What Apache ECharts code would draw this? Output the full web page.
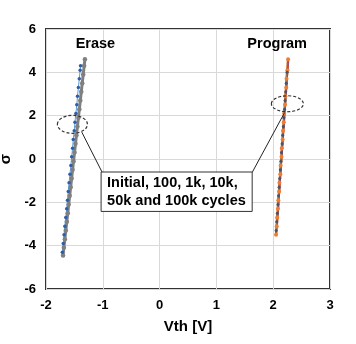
<!DOCTYPE html>
<html>
<head>
<meta charset="utf-8">
<script src="https://cdn.jsdelivr.net/npm/echarts@6/dist/echarts.min.js"></script>
<style>
html,body{margin:0;padding:0;background:#fff;}
#c{width:356px;height:344px;}
</style>
</head>
<body>
<div id="c"></div>
<script>
// ---- data ----
var xTicks = [-2, -1, 0, 1, 2, 3];
var yTicks = [-6, -4, -2, 0, 2, 4, 6];

var eraseGraySigma = [-4.45,-4.1,-3.7,-3.3,-2.9,-2.5,-2.1,-1.7,-1.3,-0.9,-0.5,-0.1,0.3,0.7,1.1,1.5,1.9,2.3,2.7,3.1,3.5,3.9,4.3,4.6];
var eraseGrayVth   = [-1.700,-1.686,-1.668,-1.652,-1.634,-1.617,-1.601,-1.583,-1.566,-1.549,-1.532,-1.515,-1.498,-1.481,-1.464,-1.447,-1.430,-1.413,-1.396,-1.379,-1.362,-1.345,-1.328,-1.315];

var eraseBlueSigma = [-4.3,-3.9,-3.5,-3.1,-2.7,-2.3,-1.9,-1.5,-1.1,-0.7,-0.3,0.1,0.5,0.9,1.3,1.7,2.1,2.5,2.9,3.3,3.7,4.1,4.3];
var eraseBlueVth   = [-1.712,-1.696,-1.682,-1.668,-1.652,-1.636,-1.622,-1.608,-1.594,-1.578,-1.562,-1.548,-1.532,-1.520,-1.503,-1.490,-1.474,-1.458,-1.445,-1.430,-1.414,-1.399,-1.392];

var progOrangeSigma = [-3.5,-3.1,-2.7,-2.3,-1.9,-1.5,-1.1,-0.7,-0.3,0.1,0.5,0.9,1.3,1.7,2.1,2.5,2.9,3.3,3.7,4.1,4.6];
var progOrangeVth   = [2.050,2.062,2.070,2.083,2.090,2.104,2.110,2.125,2.131,2.146,2.152,2.166,2.173,2.187,2.194,2.208,2.214,2.229,2.235,2.250,2.262];

var progNavySigma = [-3.3,-2.9,-2.5,-2.1,-1.7,-1.3,-0.9,-0.5,-0.1,0.3,0.7,1.1,1.5,1.9,2.3,2.7,3.1,3.5,4.0];
var progNavyVth   = [2.052,2.062,2.073,2.083,2.094,2.104,2.115,2.125,2.136,2.146,2.157,2.167,2.178,2.188,2.199,2.209,2.220,2.230,2.243];

var progRedSigma = [-3.2,4.5];
var progRedVth   = [2.070,2.270];

// annotations (data coordinates)
var ellipses = [ {x:-1.535, y:1.60, rx:15, ry:9}, {x:2.250, y:2.55, rx:16, ry:8} ];
var arrows = [ {from:[-1.01,-0.62], to:[-1.37,1.24]}, {from:[1.63,-0.62], to:[2.20,2.14]} ];
var boxCorner = [[-1.03,-0.60],[1.63,-2.42]];
var boxText = 'Initial, 100, 1k, 10k,\n50k and 100k cycles';
var titles = [ {text:'Erase', x:-1.13, y:5.3}, {text:'Program', x:2.07, y:5.3} ];

function pairs(xs, ys){ return xs.map(function(v,i){ return [v, ys[i]]; }); }

var chart = echarts.init(document.getElementById('c'));
var FONT = '"Liberation Sans", Arial, sans-serif';

var option = {
  animation: false,
  grid: { left: 46, right: 26, top: 29, bottom: 55, outerBoundsMode: 'none', containLabel: false,
          show: true, borderColor: '#333', borderWidth: 2, backgroundColor: 'transparent' },
  xAxis: {
    type: 'value', min: -2, max: 3, interval: 1,
    name: 'Vth [V]', nameLocation: 'middle', nameGap: 30,
    nameTextStyle: { color: '#000', fontWeight: 'bold', fontSize: 15, fontFamily: FONT },
    axisLine: { show: false }, axisTick: { show: false },
    axisLabel: { color: '#000', fontWeight: 'bold', fontSize: 13, fontFamily: FONT, margin: 10 },
    splitLine: { show: true, lineStyle: { color: '#d9d9d9', width: 1 } }
  },
  yAxis: {
    type: 'value', min: -6, max: 6, interval: 2,
    name: 'σ', nameLocation: 'middle', nameGap: 27, nameRotate: 90,
    nameTextStyle: { color: '#000', fontWeight: 'bold', fontSize: 15, fontFamily: FONT },
    axisLine: { show: false }, axisTick: { show: false },
    axisLabel: { color: '#000', fontWeight: 'bold', fontSize: 13, fontFamily: FONT, margin: 10 },
    splitLine: { show: true, lineStyle: { color: '#d9d9d9', width: 1 } }
  },
  series: [
    { type: 'line', data: pairs(eraseGrayVth, eraseGraySigma), symbol: 'circle', symbolSize: 4.5,
      itemStyle: { color: '#808080' }, lineStyle: { color: '#7f7f7f', width: 3 } },
    { type: 'line', data: pairs(eraseBlueVth, eraseBlueSigma), symbol: 'circle', symbolSize: 3.5,
      itemStyle: { color: '#2e5ea8' }, lineStyle: { color: '#5b9bd5', width: 1 } },
    { type: 'line', data: pairs(progOrangeVth, progOrangeSigma), symbol: 'circle', symbolSize: 4,
      itemStyle: { color: '#ed7d31' }, lineStyle: { color: '#c55a11', width: 2.5 } },
    { type: 'line', data: pairs(progNavyVth, progNavySigma), symbol: 'circle', symbolSize: 3,
      itemStyle: { color: '#44546a' }, lineStyle: { color: '#7f7f7f', width: 1 } },
    { type: 'line', data: pairs(progRedVth, progRedSigma), symbol: 'none',
      lineStyle: { color: '#9e4a6a', width: 1 },
      markLine: {
        silent: true, symbol: ['none', 'arrow'], symbolSize: [0, 7],
        lineStyle: { color: '#222', width: 1, type: 'solid' },
        label: { show: false },
        data: arrows.map(function(a){ return [{ coord: a.from }, { coord: a.to }]; })
      }
    }
  ],
  graphic: []
};
chart.setOption(option);

function drawAnno(){
  var g = [];
  ellipses.forEach(function(e){
    var p = chart.convertToPixel({gridIndex:0}, [e.x, e.y]);
    g.push({ type: 'ellipse', shape: { cx: p[0], cy: p[1], rx: e.rx, ry: e.ry },
      style: { fill: 'none', stroke: '#333', lineWidth: 1.2, lineDash: [3, 2] }, z: 100 });
  });
  var a = chart.convertToPixel({gridIndex:0}, boxCorner[0]);
  var b = chart.convertToPixel({gridIndex:0}, boxCorner[1]);
  g.push({ type: 'rect', shape: { x: a[0], y: a[1], width: b[0]-a[0], height: b[1]-a[1] },
    style: { fill: '#fff', stroke: '#333', lineWidth: 1 }, z: 100 });
  g.push({ type: 'text', x: a[0] + 6, y: (a[1]+b[1])/2, z: 101,
    style: { text: boxText, fill: '#000', font: 'bold 14.5px ' + FONT, lineHeight: 18, verticalAlign: 'middle', align: 'left' } });
  titles.forEach(function(t){
    var p = chart.convertToPixel({gridIndex:0}, [t.x, t.y]);
    g.push({ type: 'text', x: p[0], y: p[1], z: 101,
      style: { text: t.text, fill: '#000', font: 'bold 14.5px ' + FONT, align: 'center', verticalAlign: 'middle' } });
  });
  chart.setOption({ graphic: g });
}
drawAnno();
</script>
</body>
</html>
